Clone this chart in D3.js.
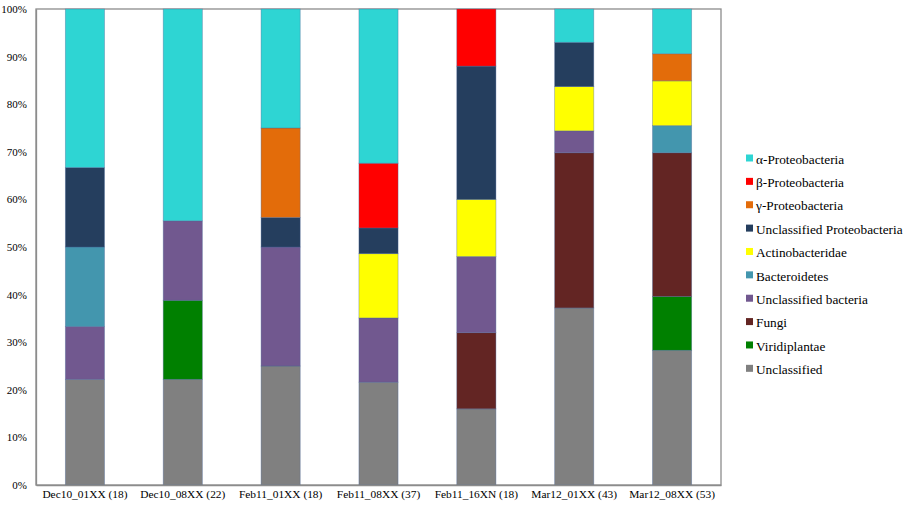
<!DOCTYPE html>
<html><head><meta charset="utf-8">
<script src="https://cdn.jsdelivr.net/npm/d3@7"></script>
<style>body{margin:0;background:#fff}svg{display:block}</style>
</head><body><svg id="c" width="907" height="510"></svg>
<script>
const categories=["Dec10_01XX (18)","Dec10_08XX (22)","Feb11_01XX (18)","Feb11_08XX (37)","Feb11_16XN (18)","Mar12_01XX (43)","Mar12_08XX (53)"];
// stacking order bottom -> top
const seriesNames=["Unclassified","Viridiplantae","Fungi","Unclassified bacteria","Bacteroidetes","Actinobacteridae","Unclassified Proteobacteria","γ-Proteobacteria","β-Proteobacteria","α-Proteobacteria"];
const unclassified=[22.2,22.2,25.0,21.6,16.0,37.2,28.3];
const viridiplantae=[0,16.6,0,0,0,0,11.3];
const fungi=[0,0,0,0,16.0,32.6,30.2];
const unclBacteria=[11.1,16.7,25.0,13.5,16.0,4.6,0];
const bacteroidetes=[16.7,0,0,0,0,0,5.7];
const actinobacteridae=[0,0,0,13.5,12.0,9.3,9.4];
const unclProteo=[16.7,0,6.2,5.4,28.0,9.3,0];
const gammaProteo=[0,0,18.8,0,0,0,5.7];
const betaProteo=[0,0,0,13.6,12.0,0,0];
const alphaProteo=[33.3,44.5,25.0,32.4,0,7.0,9.4];
const seriesValues=[unclassified,viridiplantae,fungi,unclBacteria,bacteroidetes,actinobacteridae,unclProteo,gammaProteo,betaProteo,alphaProteo];
const colors=["#808080","#008000","#632523","#71588f","#4396ae","#ffff00","#253e5e","#e36c0a","#ff0000","#2ed5d3"];
const yTicks=[0,10,20,30,40,50,60,70,80,90,100];
const legendOrder=["α-Proteobacteria","β-Proteobacteria","γ-Proteobacteria","Unclassified Proteobacteria","Actinobacteridae","Bacteroidetes","Unclassified bacteria","Fungi","Viridiplantae","Unclassified"];

const FONT="Liberation Serif";
const svg=d3.select("#c");
const m={l:36,r:186,t:9,b:25};
const W=907,H=510;
const x=d3.scaleBand().domain(categories).range([m.l,W-m.r]).paddingInner(0.6).paddingOuter(0.3);
const y=d3.scaleLinear().domain([0,100]).range([H-m.b,m.t]);

const rows=categories.map((c,i)=>{const o={cat:c};seriesNames.forEach((s,j)=>o[s]=seriesValues[j][i]);return o;});
const stack=d3.stack().keys(seriesNames)(rows);
const color=d3.scaleOrdinal().domain(seriesNames).range(colors);

// frame
svg.append("rect").attr("x",m.l).attr("y",m.t).attr("width",W-m.r-m.l).attr("height",H-m.b-m.t)
  .attr("fill","none").attr("stroke","#8c8c8c").attr("stroke-width",1.3);

svg.append("g").selectAll("g").data(stack).join("g").attr("fill",d=>color(d.key))
  .selectAll("rect").data(d=>d.filter(p=>p[1]-p[0]>0)).join("rect")
  .attr("x",d=>x(d.data.cat)).attr("width",x.bandwidth())
  .attr("y",d=>y(d[1])).attr("height",d=>y(d[0])-y(d[1]))
  .attr("stroke","rgba(70,100,150,0.45)").attr("stroke-width",0.8);

// y axis
const ya=d3.axisLeft(y).tickValues(yTicks).tickFormat(d=>d+"%").tickSize(0).tickPadding(9);
const gy=svg.append("g").attr("transform",`translate(${m.l},0)`).call(ya);
gy.select(".domain").attr("stroke","#8c8c8c").attr("stroke-width",1.3);
gy.selectAll("text").attr("font-family",FONT).style("font-family",FONT).style("font-size","11px");

// x axis
const xa=d3.axisBottom(x).tickSize(0).tickPadding(5);
const gx=svg.append("g").attr("transform",`translate(0,${H-m.b})`).call(xa);
gx.select(".domain").attr("stroke","#8c8c8c").attr("stroke-width",1.3);
gx.selectAll("text").attr("font-family",FONT).style("font-family",FONT).style("font-size","11.4px");

// legend
const lg=svg.append("g").attr("transform","translate(746,159)");
const li=lg.selectAll("g").data(legendOrder).join("g").attr("transform",(d,i)=>`translate(0,${i*23.37})`);
li.append("rect").attr("x",0).attr("y",-4.5).attr("width",7).attr("height",7).attr("fill",d=>color(d));
li.append("text").attr("x",10).attr("y",0).attr("dy","0.35em").attr("fill","#000")
  .attr("font-family",FONT).style("font-family",FONT).style("font-size","13.3px").text(d=>d);
</script></body></html>
